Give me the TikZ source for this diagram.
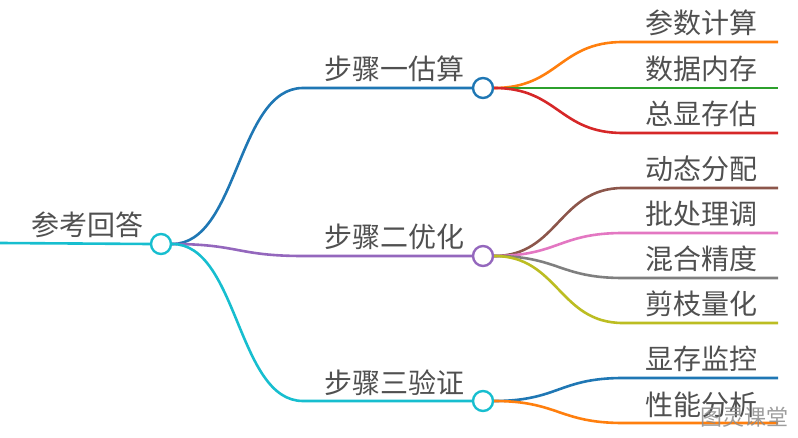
\documentclass[tikz,border=0pt]{standalone}
\usepackage{fontspec}
\newfontfamily\cjk{Noto Sans CJK SC}
\definecolor{cBlue}{HTML}{1F77B4}
\definecolor{cOrange}{HTML}{FF7F0E}
\definecolor{cGreen}{HTML}{2CA02C}
\definecolor{cRed}{HTML}{D62728}
\definecolor{cPurple}{HTML}{9467BD}
\definecolor{cBrown}{HTML}{8C564B}
\definecolor{cPink}{HTML}{E377C2}
\definecolor{cGray}{HTML}{7F7F7F}
\definecolor{cOlive}{HTML}{BCBD22}
\definecolor{cCyan}{HTML}{17BECF}
\definecolor{cText}{HTML}{505050}
\tikzset{
  hub/.style={circle, draw, fill=white, line width=2.4pt, minimum size=20pt, inner sep=0pt},
  branch/.style={line width=2.6pt},
  lbl/.style={font=\cjk\fontsize{28}{28}\selectfont, text=cText, anchor=base, inner sep=0pt},
}
\begin{document}
\begin{tikzpicture}[x=1pt, y=-1pt]
			%%%%% START %%%%%
			\useasboundingbox (0, 0) rectangle (798, 438);
			
			\node[hub, draw=cCyan] (root) at (161, 244) {};
			\node[hub, draw=cBlue] (s1) at (483, 88) {};
			\node[hub, draw=cPurple] (s2) at (483, 256) {};
			\node[hub, draw=cCyan] (s3) at (483, 401) {};
			
			\coordinate (rootin) at (0, 243);
			\draw[branch, cCyan] (rootin) -- (root.west);
			\node[lbl] (troot) at (87, 236) {参考回答};
			
			% steps
			\coordinate (k1) at (303, 88);
			\coordinate (k2) at (303, 256);
			\coordinate (k3) at (303, 401);
			\draw[branch, cBlue] (root.east) .. controls +(66, 0) and +(-66, 0) .. (k1) -- (s1.west);
			\draw[branch, cPurple] (root.east) .. controls +(66, 0) and +(-66, 0) .. (k2) -- (s2.west);
			\draw[branch, cCyan] (root.east) .. controls +(66, 0) and +(-66, 0) .. (k3) -- (s3.west);
			\node[lbl] (ts1) at (394, 80) {步骤一估算};
			\node[lbl] (ts2) at (394, 248) {步骤二优化};
			\node[lbl] (ts3) at (394, 393) {步骤三验证};
			
			% leaves of step one
			\coordinate (a1) at (623, 42);
			\coordinate (a2) at (623, 88);
			\coordinate (a3) at (623, 133);
			\coordinate (e1) at (778, 42);
			\coordinate (e2) at (778, 88);
			\coordinate (e3) at (778, 133);
			\draw[branch, cOrange] (s1.east) .. controls +(64, 0) and +(-64, 0) .. (a1) -- (e1);
			\draw[branch, cGreen] (s1.east) -- (e2);
			\draw[branch, cRed] (s1.east) .. controls +(64, 0) and +(-64, 0) .. (a3) -- (e3);
			\node[lbl] (t1) at (701, 34) {参数计算};
			\node[lbl] (t2) at (701, 80) {数据内存};
			\node[lbl] (t3) at (701, 125) {总显存估};
			
			% leaves of step two
			\coordinate (b1) at (623, 188);
			\coordinate (b2) at (623, 233);
			\coordinate (b3) at (623, 278);
			\coordinate (b4) at (623, 323);
			\coordinate (f1) at (778, 188);
			\coordinate (f2) at (778, 233);
			\coordinate (f3) at (778, 278);
			\coordinate (f4) at (778, 323);
			\draw[branch, cBrown] (s2.east) .. controls +(64, 0) and +(-64, 0) .. (b1) -- (f1);
			\draw[branch, cPink] (s2.east) .. controls +(64, 0) and +(-64, 0) .. (b2) -- (f2);
			\draw[branch, cGray] (s2.east) .. controls +(64, 0) and +(-64, 0) .. (b3) -- (f3);
			\draw[branch, cOlive] (s2.east) .. controls +(64, 0) and +(-64, 0) .. (b4) -- (f4);
			\node[lbl] (t4) at (701, 180) {动态分配};
			\node[lbl] (t5) at (701, 225) {批处理调};
			\node[lbl] (t6) at (701, 270) {混合精度};
			\node[lbl] (t7) at (701, 315) {剪枝量化};
			
			% leaves of step three
			\coordinate (c1) at (623, 378);
			\coordinate (c2) at (623, 423);
			\coordinate (g1) at (778, 378);
			\coordinate (g2) at (778, 423);
			\draw[branch, cBlue] (s3.east) .. controls +(64, 0) and +(-64, 0) .. (c1) -- (g1);
			\draw[branch, cOrange] (s3.east) .. controls +(64, 0) and +(-64, 0) .. (c2) -- (g2);
			\node[lbl] (t8) at (701, 370) {显存监控};
			\node[lbl] (t9) at (701, 415) {性能分析};
			
			\node[font=\cjk\fontsize{22}{22}\selectfont, text=black!45, fill opacity=0, text opacity=0.85] (mark) at (744, 417) {图灵课堂};
			
			%%%%% END %%%%%
\end{tikzpicture}
\end{document}
